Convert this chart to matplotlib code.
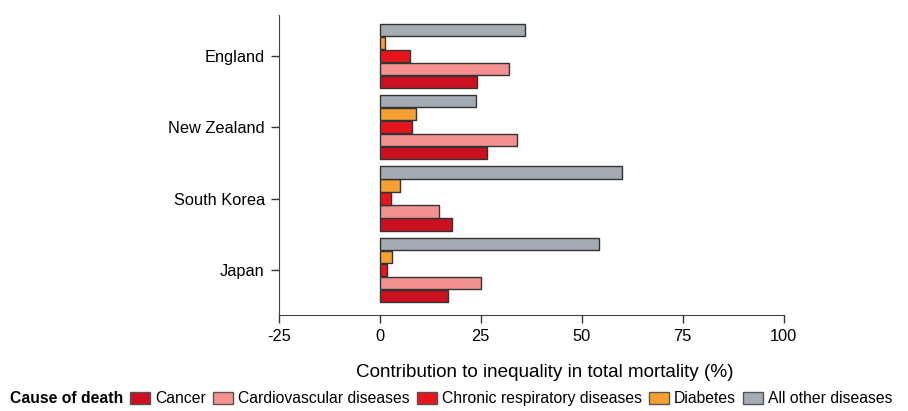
import matplotlib.pyplot as plt
import matplotlib.patches as mpatches
import numpy as np

plt.rcParams['font.family'] = ['Liberation Sans', 'DejaVu Sans']
plt.rcParams['axes.unicode_minus'] = False

countries = ['Japan', 'South Korea', 'New Zealand', 'England']
causes = ['Cancer', 'Cardiovascular diseases', 'Chronic respiratory diseases',
          'Diabetes', 'All other diseases']

# values per country, bottom to top: Japan, South Korea, New Zealand, England
cancer = [17, 18, 26.5, 24]
cardio = [25, 14.8, 34, 32]
respiratory = [1.7, 2.7, 8, 7.4]
diabetes = [3, 5, 9, 1.2]
other = [54.3, 60, 23.8, 36]

colors = ['#cc1020', '#f39090', '#e8141c', '#f5a030', '#a4abb2']
series = [cancer, cardio, respiratory, diabetes, other]

fig = plt.figure(figsize=(9.08, 4.11), dpi=100)
ax = fig.add_axes([0.307, 0.234, 0.556, 0.73])

y = np.arange(len(countries))
h = 0.175
step = 0.182
for i, (vals, c) in enumerate(zip(series, colors)):
    ax.barh(y + (i - 2) * step, vals, height=h, color=c,
            edgecolor='#333333', linewidth=1.0)

ax.set_xlim(-25, 100)
ax.set_ylim(-0.63, 3.575)
ax.set_xticks([-25, 0, 25, 50, 75, 100])
ax.set_yticks(y)
ax.set_yticklabels(countries)
ax.tick_params(labelsize=11.8, length=6, width=1, pad=4, colors='#333333', labelcolor='black')
ax.spines['top'].set_visible(False)
ax.spines['right'].set_visible(False)
ax.spines['left'].set_color('#444444')
ax.spines['bottom'].set_color('#444444')
ax.set_xlabel('Contribution to inequality in total mortality (%)', fontsize=13.6)
ax.xaxis.set_label_coords(0.527, -0.165)

handles = [mpatches.Patch(facecolor=c, edgecolor='#555555', label=l)
           for c, l in zip(colors, causes)]
fig.text(0.011, 0.03, 'Cause of death', fontsize=11.3, fontweight='bold', va='center')
fig.legend(handles=handles, ncol=5, loc='center left', bbox_to_anchor=(0.143, 0.03),
           frameon=False, fontsize=11.3, handlelength=1.3, handleheight=0.8,
           handletextpad=0.3, columnspacing=0.45, borderpad=0, borderaxespad=0)

fig.savefig('out.png', dpi=100)
